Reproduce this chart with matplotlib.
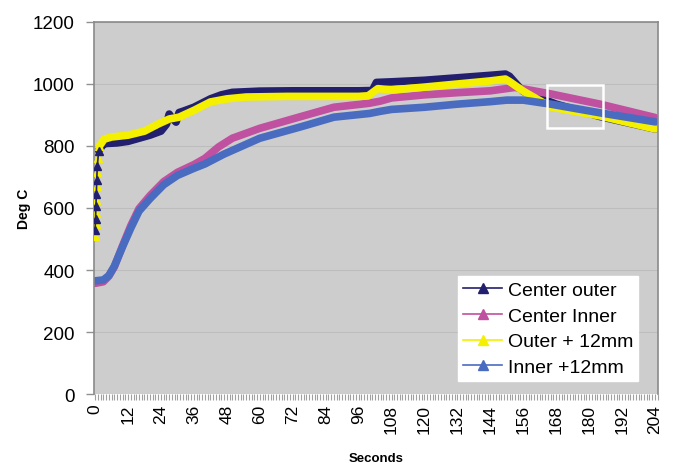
import matplotlib
matplotlib.use("Agg")
import matplotlib.pyplot as plt
from matplotlib.patches import Rectangle
from matplotlib.ticker import MultipleLocator

plt.rcParams['font.family'] = ['Liberation Sans', 'DejaVu Sans']

# Center outer
t_co = [0, 0.15, 0.3, 0.45, 0.6, 0.8, 1.3, 3, 4, 8, 12, 16, 20, 24, 26, 27, 28, 29.5, 30.6, 32, 36, 42, 46, 50, 60, 72, 84, 96, 101, 102.5, 108, 120, 132, 144, 149.5, 151, 153.5, 156, 160, 168, 184, 204]
v_co = [530, 565, 605, 645, 690, 735, 785, 805, 808, 810, 815, 825, 835, 848, 870, 903, 890, 877, 908, 912, 925, 952, 965, 973, 977, 978, 978, 978, 979, 1005, 1007, 1012, 1020, 1028, 1032, 1025, 1000, 976, 962, 935, 895, 855]

# Center Inner
t_ci = [0, 3, 5, 7, 10, 13, 16, 20, 25, 30, 36, 40, 45, 50, 60, 75, 87, 100, 104, 108, 120, 132, 144, 153, 166, 184, 204]
v_ci = [357, 362, 380, 410, 478, 543, 598, 640, 685, 715, 740, 760, 797, 825, 857, 895, 925, 938, 945, 955, 965, 972, 978, 989, 968, 935, 892]

# Outer + 12mm
t_o12 = [0, 0.15, 0.3, 0.45, 0.6, 0.8, 1.1, 1.6, 3.3, 6, 12, 18, 23, 27, 30.6, 36, 42, 48, 55, 70, 84, 96, 99.5, 103, 108, 120, 132, 144, 149.5, 151, 156, 166, 184, 204]
v_o12 = [510, 548, 585, 625, 670, 715, 760, 800, 822, 829, 835, 848, 871, 887, 893, 915, 942, 952, 958, 960, 960, 960, 962, 985, 981, 990, 1000, 1010, 1016, 1008, 977, 926, 897, 855]

# Inner +12mm
t_i12 = [0, 3, 5, 7, 10, 13, 16, 20, 25, 30, 36, 40, 47, 60, 75, 87, 100, 104, 108, 120, 132, 144, 150, 156, 166, 184, 204]
v_i12 = [365, 368, 382, 412, 475, 535, 590, 630, 675, 705, 728, 742, 774, 825, 862, 893, 905, 912, 918, 925, 935, 943, 948, 948, 935, 907, 878]

# name, times, values, colour, number of leading sparse samples (drawn as separate markers)
series = [
    ("Center outer", t_co, v_co, "#22206e", 6),
    ("Center Inner", t_ci, v_ci, "#c050a0", 0),
    ("Outer + 12mm", t_o12, v_o12, "#f4f000", 7),
    ("Inner +12mm", t_i12, v_i12, "#4a6cc0", 0),
]

xticks = list(range(0, 205, 12))
yticks = [0, 200, 400, 600, 800, 1000, 1200]

fig = plt.figure(figsize=(6.73, 4.64), dpi=100)
ax = fig.add_axes([94/673, 1-395/464, (658-94)/673, (395-23)/464])
ax.set_facecolor("#cdcdcd")

for name, t, v, c, k in series:
    ax.plot(t[k:], v[k:], color=c, lw=5.5, solid_capstyle='round', solid_joinstyle='round')
    if k:
        z = 4 if name == "Center outer" else 3
        ax.plot(t[:k + 1], v[:k + 1], color=c, lw=1.2, marker='^', ms=6, zorder=z)
    # legend proxy
    ax.plot([], [], color=c, lw=1.2, marker='^', ms=7, label=name)

ax.add_patch(Rectangle((164.7, 858), 20.3, 139, fill=False, edgecolor='white', lw=1.8, zorder=5))

ax.set_xlim(-0.4, 205.1)
ax.set_ylim(0, 1200)
ax.set_xticks(xticks)
ax.set_xticklabels([str(x) for x in xticks], rotation=90, fontsize=12.5)
ax.xaxis.set_minor_locator(MultipleLocator(1))
ax.tick_params(axis='x', which='both', length=4, color='#a0a0a0', width=0.8, pad=3)
ax.set_yticks(yticks)
ax.set_yticklabels([str(y) for y in yticks], fontsize=13.5)
ax.tick_params(axis='y', length=6, color='#909090', width=1, pad=8)
ax.yaxis.grid(True, color='#bdbdbd', lw=0.8)
ax.set_axisbelow(True)
for s in ['top', 'right', 'left']:
    ax.spines[s].set_color('#8a8a8a')
    ax.spines[s].set_linewidth(1.2)
ax.spines['bottom'].set_visible(False)

ax.set_ylabel("Deg C", fontsize=10, fontweight='bold', labelpad=1.5)
ax.set_xlabel("Seconds", fontsize=9.5, fontweight='bold', labelpad=14)

leg = ax.legend(loc='lower right', bbox_to_anchor=(0.965, 0.035), fontsize=14,
                frameon=True, fancybox=False, edgecolor='white', facecolor='white',
                framealpha=1, handlelength=2.0, handletextpad=0.3, borderpad=0.25,
                labelspacing=0.42, borderaxespad=0)

fig.savefig("out.png", dpi=100)
